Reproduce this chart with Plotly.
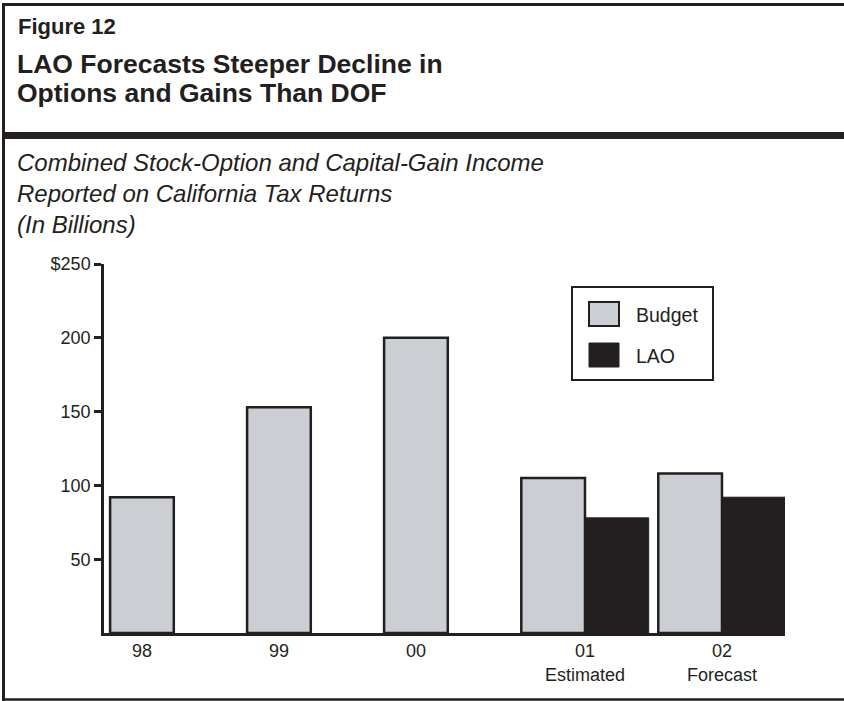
import plotly.graph_objects as go

# ---- data ----
categories = ["98", "99", "00", "01", "02"]
category_notes = ["", "", "", "Estimated", "Forecast"]
budget = [92, 153, 200, 105, 108]
lao = [None, None, None, 78, 92]
y_ticks = [50, 100, 150, 200, 250]
y_ticktext = ["50", "100", "150", "200", "$250"]

fig_label = "Figure 12"
title_lines = ["LAO Forecasts Steeper Decline in", "Options and Gains Than DOF"]
subtitle_lines = ["Combined Stock-Option and Capital-Gain Income",
                  "Reported on California Tax Returns",
                  "(In Billions)"]
series_names = ["Budget", "LAO"]

# ---- style ----
DARK = "#231f20"
GRAY = "#cbced3"
FONT = "Liberation Sans, Arial, sans-serif"
W, H = 844, 701
L, R, T, B = 104, 785, 264, 633
GROUP_GAP = 0.234   # extra space before the paired (estimate/forecast) groups
BW = 0.465          # bar width in category units


def fx(px):
    return (px - L) / (R - L)


def fy(py):
    return (B - py) / (B - T)


# category slot positions: index plus an extra gap once the paired groups start
xpos = []
for i, v in enumerate(lao):
    xpos.append(i + (GROUP_GAP if v is not None else 0.0))
xlabels = [c + ("<br>" + n if n else "") for c, n in zip(categories, category_notes)]
budget_offset = [-BW if v is not None else -BW / 2 for v in lao]
lao_offset = [0.0 for _ in lao]

fig = go.Figure()
fig.add_trace(go.Bar(
    x=xpos, y=budget, name=series_names[0], width=BW, offset=budget_offset,
    marker=dict(color=GRAY, line=dict(color=DARK, width=2.5)), showlegend=False,
))
fig.add_trace(go.Bar(
    x=xpos, y=lao, name=series_names[1], width=BW, offset=lao_offset,
    marker=dict(color=DARK, line=dict(color=DARK, width=1)), showlegend=False,
))

shapes = []
# frame
shapes.append(dict(type="line", xref="paper", yref="paper", x0=fx(3.5), x1=fx(3.5), y0=fy(3), y1=fy(701),
                   line=dict(color=DARK, width=3)))
shapes.append(dict(type="line", xref="paper", yref="paper", x0=fx(2), x1=fx(846), y0=fy(4.5), y1=fy(4.5),
                   line=dict(color=DARK, width=3)))
shapes.append(dict(type="line", xref="paper", yref="paper", x0=fx(2), x1=fx(846), y0=fy(699.5), y1=fy(699.5),
                   line=dict(color=DARK, width=2.5)))
shapes.append(dict(type="rect", xref="paper", yref="paper", x0=fx(2), x1=fx(846), y0=fy(132), y1=fy(139),
                   fillcolor=DARK, line=dict(width=0)))
# legend box
shapes.append(dict(type="rect", xref="paper", yref="paper", x0=fx(572), x1=fx(713), y0=fy(287), y1=fy(380),
                   fillcolor="white", line=dict(color=DARK, width=2)))
shapes.append(dict(type="rect", xref="paper", yref="paper", x0=fx(589), x1=fx(619), y0=fy(302), y1=fy(326),
                   fillcolor=GRAY, line=dict(color=DARK, width=2)))
shapes.append(dict(type="rect", xref="paper", yref="paper", x0=fx(589), x1=fx(619), y0=fy(343), y1=fy(367),
                   fillcolor=DARK, line=dict(color=DARK, width=1)))

ann = []
ann.append(dict(text="<b>" + fig_label + "</b>", x=fx(16), y=fy(27), font=dict(size=22)))
for i, t in enumerate(title_lines):
    ann.append(dict(text="<b>" + t + "</b>", x=fx(15), y=fy(64 + 29 * i), font=dict(size=26.5)))
for i, t in enumerate(subtitle_lines):
    ann.append(dict(text="<i>" + t + "</i>", x=fx(15), y=fy(162 + 31 * i), font=dict(size=24)))
ann.append(dict(text=series_names[0], x=fx(634), y=fy(315), font=dict(size=19.5)))
ann.append(dict(text=series_names[1], x=fx(634), y=fy(356), font=dict(size=19.5)))
for a in ann:
    a.update(xref="paper", yref="paper", xanchor="left", yanchor="middle", showarrow=False)
    a["font"].update(family=FONT, color=DARK)

fig.update_layout(
    width=W, height=H, autosize=False,
    margin=dict(l=L, r=W - R, t=T, b=H - B, pad=0),
    paper_bgcolor="white", plot_bgcolor="white",
    font=dict(family=FONT, color=DARK, size=18),
    barmode="overlay",
    shapes=shapes, annotations=ann,
)
fig.update_xaxes(
    type="linear", range=[-0.277, 4.694], tickmode="array", tickvals=xpos, ticktext=xlabels,
    showline=True, linecolor=DARK, linewidth=2.5,
    ticks="", showgrid=False, zeroline=False, tickfont=dict(size=18, family=FONT, color=DARK),
    automargin=False,
)
fig.update_yaxes(
    range=[0, 250], tickvals=y_ticks, ticktext=y_ticktext, showline=True, linecolor=DARK, linewidth=2.5,
    ticks="outside", ticklen=7, tickwidth=2.5, tickcolor=DARK, showgrid=False, zeroline=False,
    tickfont=dict(size=18, family=FONT, color=DARK), automargin=False,
)

fig.write_html("out.html", config={"displayModeBar": False},
               post_script="document.body.style.margin='0';")
